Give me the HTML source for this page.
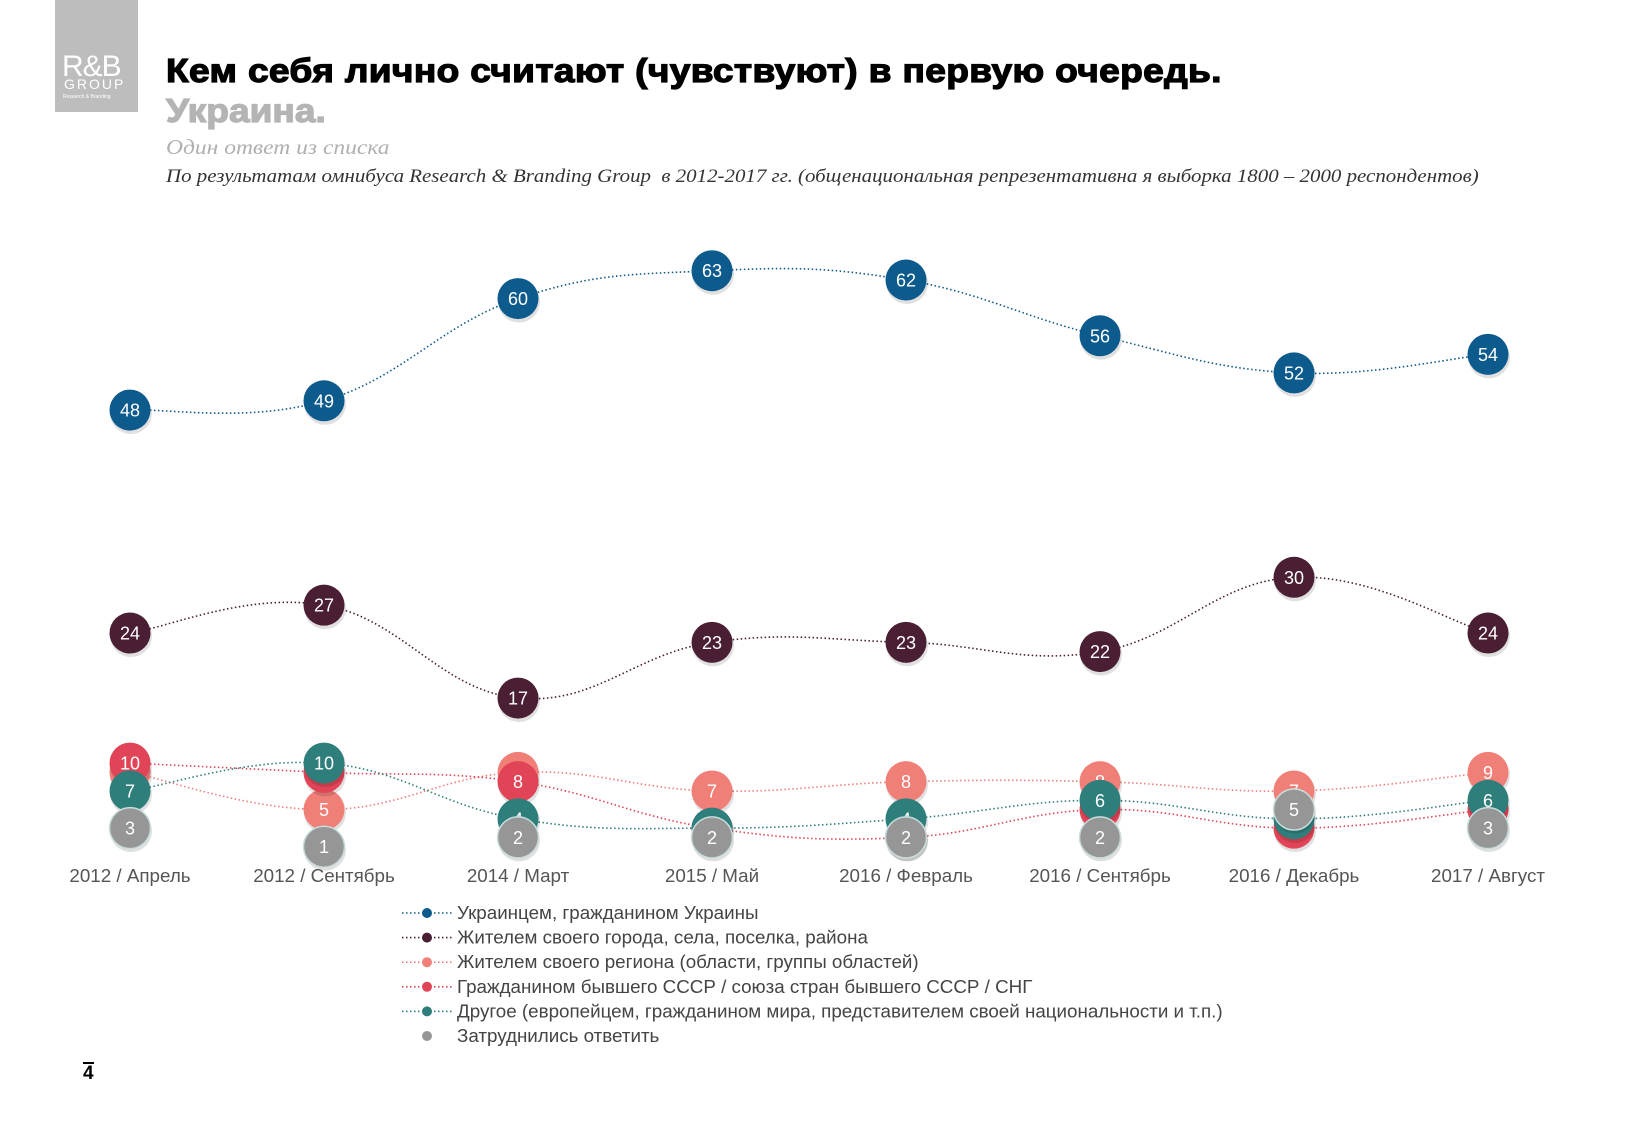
<!DOCTYPE html>
<html><head><meta charset="utf-8">
<style>
html,body{margin:0;padding:0;background:#fff;}
body{width:1625px;height:1125px;position:relative;overflow:hidden;font-family:"Liberation Sans",sans-serif;}
.abs{position:absolute;white-space:nowrap;}
</style></head>
<body>
<div class="abs" style="left:55px;top:0;width:83px;height:112px;background:#bdbdbd;">
  <div class="abs" style="left:7px;top:50px;font-size:30px;color:#fff;letter-spacing:-1px;">R&amp;B</div>
  <div class="abs" style="left:9px;top:76px;font-size:14px;color:#fff;letter-spacing:2px;">GROUP</div>
  <div class="abs" style="left:8px;top:94px;font-size:5px;color:#fff;">Research &amp; Branding</div>
</div>
<div class="abs" style="left:166px;top:52px;font-size:33px;font-weight:900;color:#000;letter-spacing:0.3px;-webkit-text-stroke:1.2px #000;transform:scaleX(1.125);transform-origin:0 0;">Кем себя лично считают (чувствуют) в первую очередь.</div>
<div class="abs" style="left:166px;top:92px;font-size:33px;font-weight:900;color:#b4b4b4;-webkit-text-stroke:1.2px #b4b4b4;transform:scaleX(1.125);transform-origin:0 0;">Украина.</div>
<div class="abs" style="left:166px;top:135px;font-family:'Liberation Serif',serif;font-style:italic;font-size:21px;color:#b0b0b0;transform:scaleX(1.12);transform-origin:0 0;">Один ответ из списка</div>
<div class="abs" style="left:166px;top:167px;font-family:'Liberation Serif',serif;font-style:italic;font-size:18.5px;color:#333;transform:scaleX(1.13);transform-origin:0 0;">По результатам омнибуса Research &amp; Branding Group&nbsp; в 2012-2017 гг. (общенациональная репрезентативна я выборка 1800 – 2000 респондентов)</div>

<svg id="chart" class="abs" style="left:0;top:0" width="1625" height="1125"></svg>

<div class="abs" style="left:83px;top:1062px;font-size:19px;font-weight:bold;color:#000;border-top:2px solid #000;line-height:20px;">4</div>

<script>
const categories=["2012 / Апрель","2012 / Сентябрь","2014 / Март","2015 / Май","2016 / Февраль","2016 / Сентябрь","2016 / Декабрь","2017 / Август"];
const seriesNames=["Украинцем, гражданином Украины","Жителем своего города, села, поселка, района","Жителем своего региона (области, группы областей)","Гражданином бывшего СССР / союза стран бывшего  СССР / СНГ","Другое (европейцем, гражданином мира, представителем своей национальности и т.п.)","Затруднились ответить"];
const ukrainian=[48,49,60,63,62,56,52,54];
const cityResident=[24,27,17,23,23,22,30,24];
const regionResident=[9,5,9,7,8,8,7,9];
const ussrCitizen=[10,9,8,3,2,5,3,5];
const other=[7,10,4,3,4,6,4,6];
const hardToSay=[3,1,2,2,2,2,5,3];
const seriesValues=[ukrainian,cityResident,regionResident,ussrCitizen,other,hardToSay];
const colors=["#0d5a8c","#4a1f33","#f07f78","#e04456","#2e7f7b","#969696"];
const keys=["ukrainian","city","region","ussr","other","hard"];

const svg=document.getElementById('chart');
const NS="http://www.w3.org/2000/svg";
function xScale(i){return 130+i*194;}
function yScale(v){return 856-v*9.29;}
function mk(t,a){const e=document.createElementNS(NS,t);for(const k in a)e.setAttribute(k,a[k]);return e;}

function smoothPath(pts){
  let d="M"+pts[0][0]+","+pts[0][1];
  for(let i=0;i<pts.length-1;i++){
    const p0=pts[Math.max(0,i-1)],p1=pts[i],p2=pts[i+1],p3=pts[Math.min(pts.length-1,i+2)];
    const t=0.2;
    const c1=[p1[0]+(p2[0]-p0[0])*t,p1[1]+(p2[1]-p0[1])*t];
    const c2=[p2[0]-(p3[0]-p1[0])*t,p2[1]-(p3[1]-p1[1])*t];
    d+=" C"+c1[0]+","+c1[1]+" "+c2[0]+","+c2[1]+" "+p2[0]+","+p2[1];
  }
  return d;
}

seriesValues.forEach((vals,s)=>{
  const pts=vals.map((v,i)=>[xScale(i),yScale(v)]);
  if(s<5){
    const p=mk('path',{d:smoothPath(pts),fill:'none',stroke:colors[s],'stroke-width':1.6,'stroke-dasharray':'1.5 2.5'});
    
    
    svg.appendChild(p);
  }
});
seriesValues.forEach((vals,s)=>{
  vals.forEach((v,i)=>{
    const g=mk('g',{});
    
    
    g.appendChild(mk('circle',{cx:xScale(i)+1,cy:yScale(v)+3,r:21,fill:'rgba(0,0,0,0.12)'}));
    g.appendChild(mk('circle',{cx:xScale(i),cy:yScale(v),r:20.5,fill:colors[s],stroke:s==5?'#c8dcdc':'none','stroke-width':1.5}));
    const t=mk('text',{x:xScale(i),y:yScale(v)+6.5,'text-anchor':'middle','font-size':18,fill:'#fff','font-family':'Liberation Sans, sans-serif'});
    t.textContent=v;
    g.appendChild(t);
    svg.appendChild(g);
  });
});
categories.forEach((c,i)=>{
  const t=mk('text',{x:xScale(i),y:882,'text-anchor':'middle','font-size':18.8,fill:'#555','font-family':'Liberation Sans, sans-serif'});
  
  
  t.textContent=c;
  svg.appendChild(t);
});
seriesNames.forEach((n,s)=>{
  const y=913+s*24.6;
  const g=mk('g',{});
  
  
  if(s<5)g.appendChild(mk('line',{x1:402,y1:y,x2:452,y2:y,stroke:colors[s],'stroke-width':1.6,'stroke-dasharray':'1.5 2.5'}));
  g.appendChild(mk('circle',{cx:427,cy:y,r:5,fill:colors[s]}));
  const t=mk('text',{x:457,y:y+6,'font-size':18.8,fill:'#444','font-family':'Liberation Sans, sans-serif'});
  t.textContent=n;
  g.appendChild(t);
  svg.appendChild(g);
});
</script>
</body></html>
